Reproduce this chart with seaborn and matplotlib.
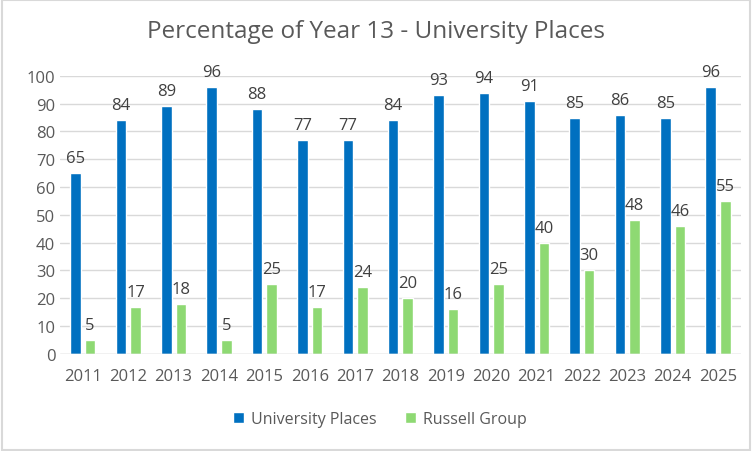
import numpy as np
import pandas as pd
import seaborn as sns
import matplotlib.pyplot as plt
from matplotlib.patches import Rectangle

years = ['2011', '2012', '2013', '2014', '2015', '2016', '2017', '2018',
         '2019', '2020', '2021', '2022', '2023', '2024', '2025']
university = [65, 84, 89, 96, 88, 77, 77, 84, 93, 94, 91, 85, 86, 85, 96]
russell = [5, 17, 18, 5, 25, 17, 24, 20, 16, 25, 40, 30, 48, 46, 55]
series = ['University Places', 'Russell Group']
colours = ['#0070C0', '#8ED973']

df = pd.DataFrame({'year': years * 2,
                   'value': university + russell,
                   'series': [series[0]] * len(years) + [series[1]] * len(years)})

sns.set_style('white')
plt.rcParams['font.family'] = ['Open Sans', 'DejaVu Sans']
grey = '#595959'

fig = plt.figure(figsize=(7.52, 4.52), dpi=100)
ax = fig.add_axes([0.08, 0.215, 0.905, 0.615])

sns.barplot(data=df, x='year', y='value', hue='series', palette=colours,
            saturation=1, width=0.64, gap=0.27, ax=ax, legend=True)

for c in ax.containers:
    ax.bar_label(c, fmt='%d', padding=5, color='#404040', fontsize=12)

ax.set_ylim(0, 100)
ax.set_yticks(range(0, 101, 10))
ax.yaxis.grid(True, color='#D9D9D9', linewidth=1)
ax.set_axisbelow(True)
for s in ax.spines.values():
    s.set_visible(False)
ax.axhline(0, color='#D9D9D9', linewidth=1)
ax.set_xlabel('')
ax.set_ylabel('')
ax.tick_params(axis='both', colors=grey, labelsize=12, length=0)
ax.tick_params(axis='x', pad=10)
ax.set_xlim(-0.5, len(years) - 0.5)

ax.legend(loc='center', bbox_to_anchor=(0.505, 0.07), bbox_transform=fig.transFigure,
          ncol=2, frameon=False, fontsize=11.5, labelcolor=grey,
          handlelength=0.7, handleheight=0.7, columnspacing=1.8, handletextpad=0.4)

fig.suptitle('Percentage of Year 13 - University Places', y=0.955,
             fontsize=17.5, color=grey)

fig.patches.append(Rectangle((0.002, 0.003), 0.995, 0.994, transform=fig.transFigure,
                             fill=False, edgecolor='#D9D9D9', linewidth=1.5))

fig.savefig('out.png', dpi=100)
